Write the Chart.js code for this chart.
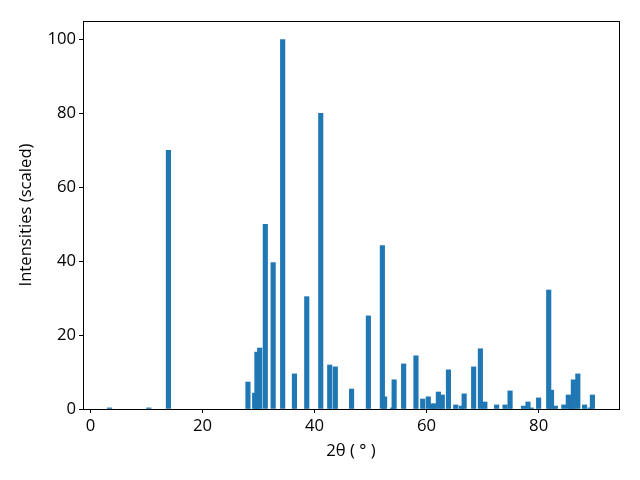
<!DOCTYPE html>
<html><head><meta charset="utf-8">
<script src="https://cdn.jsdelivr.net/npm/chart.js@4.4.1/dist/chart.umd.min.js"></script>
<style>html,body{margin:0;padding:0;background:#fff}#wrap{width:640px;height:480px}</style>
</head><body><div id="wrap"><canvas id="c" width="640" height="480"></canvas></div>
<script>
const twoTheta = [3.4, 10.4, 13.9, 28.1, 29.3, 29.7, 30.2, 31.2, 32.6, 34.3, 36.4, 38.6, 41.1, 42.7, 43.7, 46.6, 49.6, 52.1, 52.5, 53.9, 54.2, 55.9, 58.1, 59.3, 60.3, 61.0, 61.4, 62.1, 62.8, 63.9, 65.2, 66.2, 66.7, 68.4, 69.6, 70.4, 72.5, 74.0, 74.9, 77.3, 78.1, 78.7, 80.0, 81.8, 82.3, 83.0, 84.5, 85.3, 85.8, 86.2, 87.0, 88.2, 89.2, 89.6];
const intensity = [0.3, 0.3, 70, 7.3, 4.3, 15.4, 16.5, 50, 39.6, 100, 9.5, 30.4, 80, 11.9, 11.4, 5.4, 25.2, 44.2, 3.3, 0.3, 7.9, 12.2, 14.4, 2.7, 3.3, 1.4, 1.4, 4.6, 3.8, 10.6, 1.1, 0.8, 4.1, 11.4, 16.3, 1.9, 1.1, 1.1, 4.9, 0.8, 1.9, 0.3, 3.0, 32.2, 5.1, 0.8, 1.1, 3.8, 3.3, 7.9, 9.5, 1.1, 0.3, 3.8];
const xTicks = [0, 20, 40, 60, 80];
const yTicks = [0, 20, 40, 60, 80, 100];
const xLabel = '2θ ( ° )';
const yLabel = 'Intensities (scaled)';
const barWidthUnits = 0.8;

const FONT = {family: "'Open Sans', 'Noto Sans', sans-serif", size: 16.67};

const framePlugin = {
  id: 'frame',
  afterDraw(chart) {
    const a = chart.chartArea, c = chart.ctx;
    c.save();
    c.strokeStyle = '#000';
    c.lineWidth = 1;
    c.strokeRect(Math.round(a.left) + 0.5, Math.round(a.top) + 0.5, Math.round(a.right - a.left), Math.round(a.bottom - a.top));
    c.restore();
  }
};

new Chart(document.getElementById('c'), {
  type: 'bar',
  data: {
    datasets: [{
      data: twoTheta.map((x, i) => ({x: x, y: intensity[i]})),
      backgroundColor: '#1f77b4',
      borderWidth: 0,
      grouped: false,
      barThickness: (ctx) => {
        const s = ctx.chart.scales && ctx.chart.scales.x;
        if (!s) return 4.5;
        return Math.abs(s.getPixelForValue(barWidthUnits) - s.getPixelForValue(0));
      }
    }]
  },
  options: {
    responsive: false,
    animation: false,
    layout: {padding: {top: 21, right: 21, left: 0, bottom: 0}},
    plugins: {legend: {display: false}, tooltip: {enabled: false}},
    scales: {
      x: {
        type: 'linear',
        min: -1.35,
        max: 94.35,
        offset: false,
        grid: {drawOnChartArea: false, drawTicks: true, tickLength: 4, color: '#000', offset: false},
        border: {display: true, color: '#000'},
        ticks: {color: '#000', font: FONT, padding: 3, maxRotation: 0},
        afterBuildTicks: (s) => { s.ticks = xTicks.map(v => ({value: v})); },
        afterFit: (s) => { s.height = 71; },
        title: {display: true, text: xLabel, color: '#000', font: FONT, padding: {top: 4, bottom: 19}}
      },
      y: {
        type: 'linear',
        min: 0,
        max: 105,
        grid: {drawOnChartArea: false, drawTicks: true, tickLength: 4, color: '#000'},
        border: {display: true, color: '#000'},
        ticks: {color: '#000', font: FONT, padding: 3},
        afterBuildTicks: (s) => { s.ticks = yTicks.map(v => ({value: v})); },
        afterFit: (s) => { s.width = 83; },
        title: {display: true, text: yLabel, color: '#000', font: FONT, padding: {top: 16, bottom: 4}}
      }
    }
  },
  plugins: [framePlugin]
});
</script></body></html>
